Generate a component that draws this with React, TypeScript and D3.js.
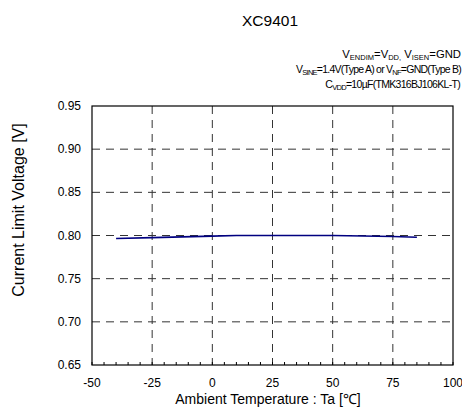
import React from "react";
import * as d3 from "d3";

const temps = [-40, -25, 0, 10, 25, 50, 75, 85];
const volts = [0.7965, 0.7975, 0.7993, 0.8, 0.8, 0.8, 0.7988, 0.798];
const xTicks = [-50, -25, 0, 25, 50, 75, 100];
const yTicks = [0.65, 0.7, 0.75, 0.8, 0.85, 0.9, 0.95];
const xMinor = d3.range(-50, 101, 5);

const W = 462, H = 410;
const L = 92, R = 453, T = 106, B = 365;
const FONT = "'Liberation Sans', Arial, sans-serif";

export default function App() {
  const x = d3.scaleLinear().domain([-50, 100]).range([L, R]);
  const y = d3.scaleLinear().domain([0.65, 0.95]).range([B, T]);
  const line = d3.line<number>().x((_, i) => x(temps[i])).y((d) => y(d));
  const grid = "#333";
  const sub = { fontSize: 7.5 } as const;
  return (
    <svg width={W} height={H} style={{ position: "absolute", left: 0, top: 0, background: "#fff" }} fontFamily={FONT}>
      <text x={270} y={26} textAnchor="middle" fontSize={15.5}>XC9401</text>
      <g textAnchor="end">
        <text x={461} y={58} fontSize={11.3}>
          V<tspan style={sub} dy={2}>ENDIM</tspan><tspan dy={-2}>=V</tspan><tspan style={sub} dy={2}>DD,</tspan><tspan dy={-2}> V</tspan><tspan style={sub} dy={2}>ISEN</tspan><tspan dy={-2}>=GND</tspan>
        </text>
        <text x={461} y={73} fontSize={10.5} letterSpacing={-0.75}>
          V<tspan style={sub} dy={2}>SINE</tspan><tspan dy={-2}>=1.4V(Type A) or V</tspan><tspan style={sub} dy={2}>NF</tspan><tspan dy={-2}>=GND(Type B)</tspan>
        </text>
        <text x={460} y={88} fontSize={10.5} letterSpacing={-0.7}>
          C<tspan style={sub} dy={2}>VDD</tspan><tspan dy={-2}>=10µF(TMK316BJ106KL-T)</tspan>
        </text>
      </g>
      {yTicks.slice(1, -1).map((v) => (
        <line key={"h" + v} x1={L} x2={R} y1={y(v)} y2={y(v)} stroke={grid} strokeDasharray="8,6" />
      ))}
      {xTicks.slice(1, -1).map((v) => (
        <line key={"v" + v} x1={x(v)} x2={x(v)} y1={T} y2={B} stroke={grid} strokeDasharray="8,6" />
      ))}
      {xMinor.map((v) => (
        <line key={"m" + v} x1={x(v)} x2={x(v)} y1={B} y2={B - 3} stroke="#000" />
      ))}
      <rect x={L} y={T} width={R - L} height={B - T} fill="none" stroke="#000" strokeWidth={1.2} />
      <path d={line(volts) || ""} fill="none" stroke="#000080" strokeWidth={1.6} />
      <g fontSize={12} textAnchor="end">
        {yTicks.map((v) => (
          <text key={"yl" + v} x={81} y={y(v) + 4}>{v.toFixed(2)}</text>
        ))}
      </g>
      <g fontSize={12} textAnchor="middle">
        {xTicks.map((v) => (
          <text key={"xl" + v} x={x(v)} y={387}>{v}</text>
        ))}
      </g>
      <text x={268} y={404} textAnchor="middle" fontSize={14}>Ambient Temperature : Ta [℃]</text>
      <text transform="translate(24,210) rotate(-90)" textAnchor="middle" fontSize={16}>Current Limit Voltage [V]</text>
    </svg>
  );
}
